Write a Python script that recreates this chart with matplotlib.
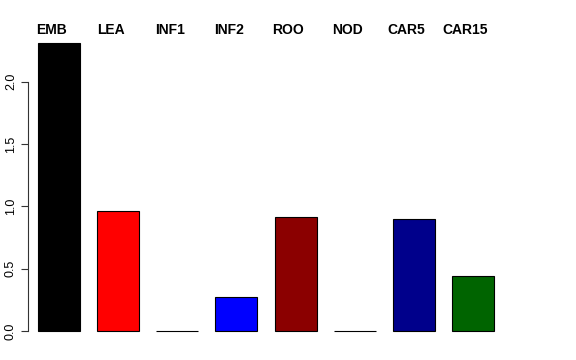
import numpy as np
import matplotlib.pyplot as plt
from matplotlib import transforms

plt.rcParams["font.family"] = ["Liberation Sans", "DejaVu Sans"]

# mean values per tissue
tissues = ["EMB", "LEA", "INF1", "INF2", "ROO", "NOD", "CAR5", "CAR15"]
values = [2.31, 0.965, 0.0, 0.275, 0.915, 0.0, 0.90, 0.442]
colors = ["black", "red", "green", "blue", "#8B0000", "orange", "#00008B", "#006400"]

fig = plt.figure(figsize=(5.76, 3.6), dpi=100)
ax = fig.add_axes([28 / 576, 17.5 / 360, (504 - 28) / 576, 311 / 360])

x = np.arange(len(tissues))
ax.bar(x, values, width=0.71, color=colors, edgecolor="black", linewidth=0.8)

ax.set_xlim(-0.525, 7.525)
ax.set_ylim(-0.0924, 2.4024)
for s in ["top", "right", "bottom"]:
    ax.spines[s].set_visible(False)
ax.spines["left"].set_bounds(0, 2)
ax.spines["left"].set_color("#333333")
ax.set_xticks([])
ax.set_yticks([0, 0.5, 1.0, 1.5, 2.0])
ax.set_yticklabels(["0.0", "0.5", "1.0", "1.5", "2.0"], rotation=90, va="center",
                   fontsize=9)
ax.tick_params(axis="y", length=5, width=0.8, color="#333333", pad=3)

trans = transforms.blended_transform_factory(ax.transData, ax.transAxes)
for xi, name in zip(x, tissues):
    ax.text(xi - 0.13, 1.005, name, transform=trans, ha="center", va="center",
            fontsize=10, fontweight="bold")

fig.savefig("out.png", dpi=100)
